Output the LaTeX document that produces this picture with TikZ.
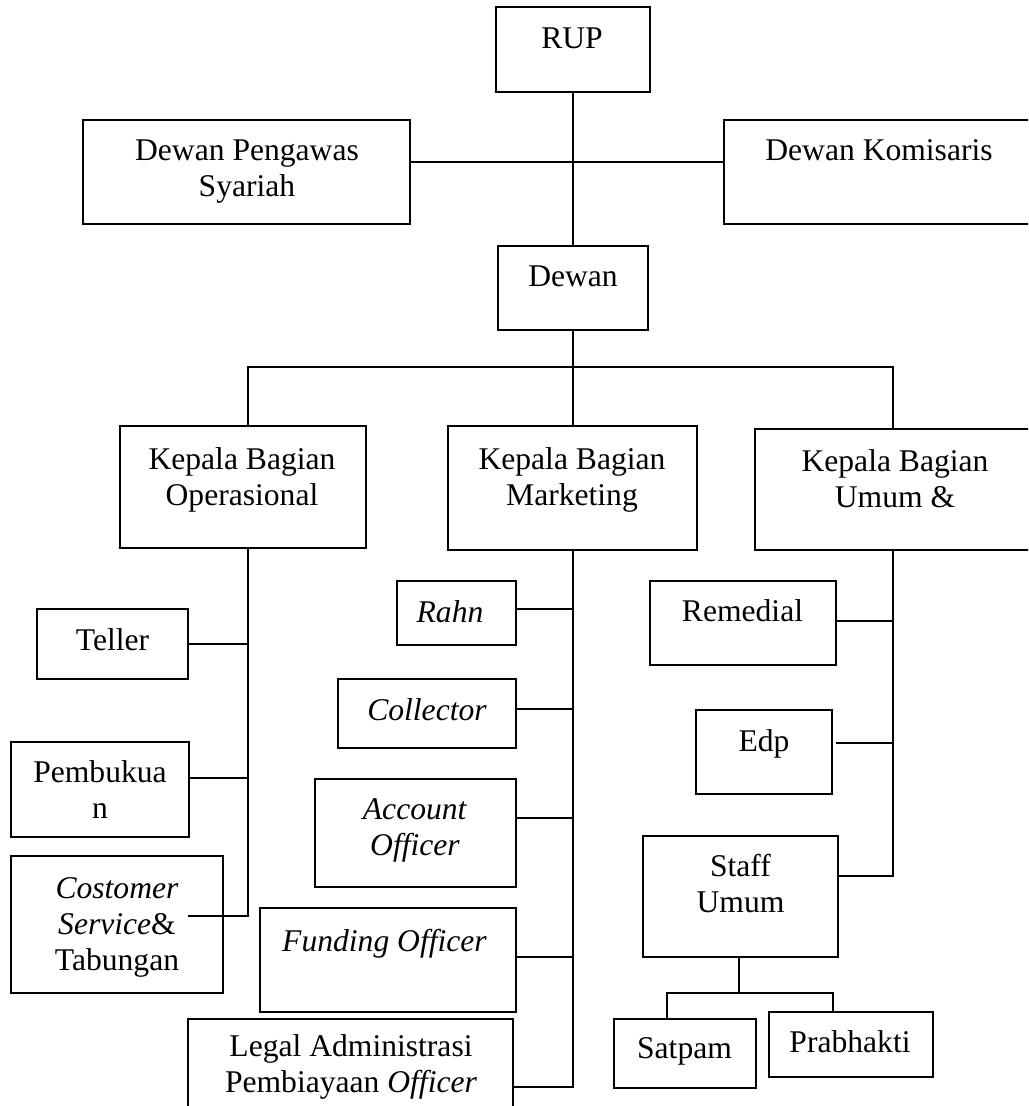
\documentclass[tikz,border=0pt]{standalone}
\usepackage{fontspec}
\setmainfont{Liberation Serif}
\usetikzlibrary{fit}
\tikzset{
  box/.style={draw, line width=1pt, inner sep=0pt},
  txt/.style={align=center, inner sep=0pt, anchor=north, font=\fontsize{15.8}{18}\selectfont},
  conn/.style={line width=1pt}
}
\begin{document}
\begin{tikzpicture}[x=0.5pt, y=-0.5pt]
\clip (0,0) rectangle (1028,1106);
\fill[white] (0,0) rectangle (1028,1106);
% boxes
\node[box, fit={(496,7) (650,92)}] (rup) {};
\node[box, fit={(83,120) (410,224)}] (dps) {};
\node[box, fit={(724,120) (1040,224)}] (dk) {};
\node[box, fit={(498,246) (648,330)}] (dewan) {};
\node[box, fit={(120,426) (366,548)}] (kbo) {};
\node[box, fit={(448,426) (697,550)}] (kbm) {};
\node[box, fit={(755,429) (1040,550)}] (kbu) {};
\node[box, fit={(37,609) (188,679)}] (teller) {};
\node[box, fit={(11,742) (189,837)}] (pemb) {};
\node[box, fit={(11,856) (223,993)}] (cs) {};
\node[box, fit={(397,581) (516,645)}] (rahn) {};
\node[box, fit={(338,679) (516,748)}] (coll) {};
\node[box, fit={(315,779) (516,887)}] (ao) {};
\node[box, fit={(260,908) (516,1012)}] (fo) {};
\node[box, fit={(188,1019) (513,1120)}] (legal) {};
\node[box, fit={(650,581) (836,665)}] (rem) {};
\node[box, fit={(696,710) (832,794)}] (edp) {};
\node[box, fit={(643,836) (838,957)}] (staff) {};
\node[box, fit={(614,1019) (756,1088)}] (satpam) {};
\node[box, fit={(769,1012) (933,1077)}] (prab) {};
% texts
\node[txt] (rupt) at (572,27) {RUP};
\node[txt] (dpst) at (247,139) {Dewan Pengawas\\Syariah};
\node[txt] (dkt) at (879,139) {Dewan Komisaris};
\node[txt] (dewant) at (573,265) {Dewan};
\node[txt] (kbot) at (242,447) {Kepala Bagian\\Operasional};
\node[txt] (kbmt) at (572,447) {Kepala Bagian\\Marketing};
\node[txt] (kbut) at (895,449) {Kepala Bagian\\Umum \&};
\node[txt] (tellert) at (112.5,628) {Teller};
\node[txt] (pembt) at (100,760) {Pembukua\\n};
\node[txt] (cst) at (117,877) {\textit{Costomer}\\\textit{Service}\&\\Tabungan};
\node[txt] (rahnt) at (450,600) {\textit{Rahn}};
\node[txt] (collt) at (427,698) {\textit{Collector}};
\node[txt] (aot) at (415,798) {\textit{Account}\\\textit{Officer}};
\node[txt] (fot) at (384.5,929) {\textit{Funding Officer}};
\node[txt] (legalt) at (351,1034) {Legal Administrasi\\Pembiayaan \textit{Officer}};
\node[txt] (remt) at (742.5,599) {Remedial};
\node[txt] (edpt) at (764,729) {Edp};
\node[txt] (stafft) at (740.5,854) {Staff\\Umum};
\node[txt] (satpamt) at (684.5,1037) {Satpam};
\node[txt] (prabt) at (850,1030) {Prabhakti};
% junction coordinates
\coordinate (jc) at (573,162);
\coordinate (bus) at (573,367);
\coordinate (bl) at (248,367);
\coordinate (br) at (893,367);
\coordinate (ob) at (248,916);
\coordinate (csend) at (188,916);
\coordinate (mb) at (573,1087);
\coordinate (ub) at (893,876);
\coordinate (sj) at (739,993);
\coordinate (sl) at (667,993);
\coordinate (sr) at (833,993);
% connectors
\draw[conn] (rup.south -| bus) -- (dewan.north -| bus);
\draw[conn] (dps.east |- jc) -- (dk.west |- jc);
\draw[conn] (dewan.south -| bus) -- (bus) -- (kbm.north -| bus);
\draw[conn] (kbo.north -| bl) -- (bl) -- (br) -- (kbu.north -| br);
% operasional
\draw[conn] (kbo.south -| ob) -- (ob) -- (csend);
\draw[conn] (teller.east) -- (teller.east -| ob);
\draw[conn] (pemb.east |- 0,778) -- (ob |- 0,778);
% marketing
\draw[conn] (kbm.south -| mb) -- (mb) -- (legal.east |- mb);
\draw[conn] (rahn.east |- 0,609) -- (mb |- 0,609);
\draw[conn] (coll.east |- 0,709) -- (mb |- 0,709);
\draw[conn] (ao.east |- 0,818) -- (mb |- 0,818);
\draw[conn] (fo.east |- 0,957) -- (mb |- 0,957);
% umum
\draw[conn] (kbu.south -| ub) -- (ub) -- (staff.east |- ub);
\draw[conn] (rem.east |- 0,621) -- (ub |- 0,621);
\draw[conn] (edp.east |- 0,743) ++(3,0) -- (ub |- 0,743);
\draw[conn] (staff.south -| sj) -- (sj);
\draw[conn] (satpam.north -| sl) -- (sl) -- (sr) -- (prab.north -| sr);
\end{tikzpicture}
\end{document}
